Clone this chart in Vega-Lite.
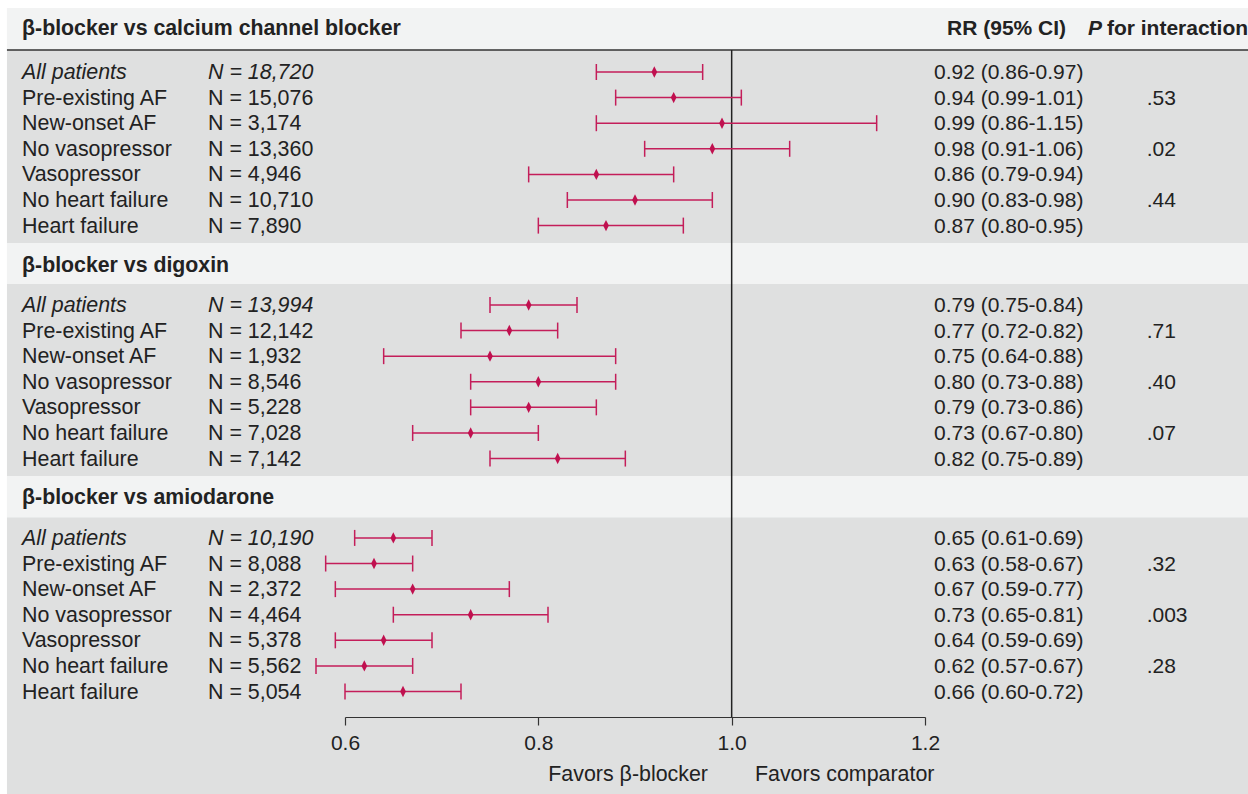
{
  "$schema": "https://vega.github.io/schema/vega-lite/v6.json",
  "width": 580,
  "height": 717,
  "autosize": {"type": "none"},
  "padding": {"left": 345, "right": 323, "top": 0, "bottom": 77},
  "background": "#dfe0e0",
  "config": {"view": {"stroke": null}, "text": {"font": "Liberation Sans", "dy": 1}},
  "datasets": {
    "rows": [
      {"label": "All patients", "n": "N = 18,720", "rr": 0.92, "lo": 0.86, "hi": 0.97, "ci": "0.92 (0.86-0.97)", "p": "", "all": true, "pos": 0},
      {"label": "Pre-existing AF", "n": "N = 15,076", "rr": 0.94, "lo": 0.88, "hi": 1.01, "ci": "0.94 (0.99-1.01)", "p": ".53", "all": false, "pos": 1},
      {"label": "New-onset AF", "n": "N = 3,174", "rr": 0.99, "lo": 0.86, "hi": 1.15, "ci": "0.99 (0.86-1.15)", "p": "", "all": false, "pos": 2},
      {"label": "No vasopressor", "n": "N = 13,360", "rr": 0.98, "lo": 0.91, "hi": 1.06, "ci": "0.98 (0.91-1.06)", "p": ".02", "all": false, "pos": 3},
      {"label": "Vasopressor", "n": "N = 4,946", "rr": 0.86, "lo": 0.79, "hi": 0.94, "ci": "0.86 (0.79-0.94)", "p": "", "all": false, "pos": 4},
      {"label": "No heart failure", "n": "N = 10,710", "rr": 0.90, "lo": 0.83, "hi": 0.98, "ci": "0.90 (0.83-0.98)", "p": ".44", "all": false, "pos": 5},
      {"label": "Heart failure", "n": "N = 7,890", "rr": 0.87, "lo": 0.80, "hi": 0.95, "ci": "0.87 (0.80-0.95)", "p": "", "all": false, "pos": 6},
      {"label": "All patients", "n": "N = 13,994", "rr": 0.79, "lo": 0.75, "hi": 0.84, "ci": "0.79 (0.75-0.84)", "p": "", "all": true, "pos": 9.1},
      {"label": "Pre-existing AF", "n": "N = 12,142", "rr": 0.77, "lo": 0.72, "hi": 0.82, "ci": "0.77 (0.72-0.82)", "p": ".71", "all": false, "pos": 10.1},
      {"label": "New-onset AF", "n": "N = 1,932", "rr": 0.75, "lo": 0.64, "hi": 0.88, "ci": "0.75 (0.64-0.88)", "p": "", "all": false, "pos": 11.1},
      {"label": "No vasopressor", "n": "N = 8,546", "rr": 0.80, "lo": 0.73, "hi": 0.88, "ci": "0.80 (0.73-0.88)", "p": ".40", "all": false, "pos": 12.1},
      {"label": "Vasopressor", "n": "N = 5,228", "rr": 0.79, "lo": 0.73, "hi": 0.86, "ci": "0.79 (0.73-0.86)", "p": "", "all": false, "pos": 13.1},
      {"label": "No heart failure", "n": "N = 7,028", "rr": 0.73, "lo": 0.67, "hi": 0.80, "ci": "0.73 (0.67-0.80)", "p": ".07", "all": false, "pos": 14.1},
      {"label": "Heart failure", "n": "N = 7,142", "rr": 0.82, "lo": 0.75, "hi": 0.89, "ci": "0.82 (0.75-0.89)", "p": "", "all": false, "pos": 15.1},
      {"label": "All patients", "n": "N = 10,190", "rr": 0.65, "lo": 0.61, "hi": 0.69, "ci": "0.65 (0.61-0.69)", "p": "", "all": true, "pos": 18.2},
      {"label": "Pre-existing AF", "n": "N = 8,088", "rr": 0.63, "lo": 0.58, "hi": 0.67, "ci": "0.63 (0.58-0.67)", "p": ".32", "all": false, "pos": 19.2},
      {"label": "New-onset AF", "n": "N = 2,372", "rr": 0.67, "lo": 0.59, "hi": 0.77, "ci": "0.67 (0.59-0.77)", "p": "", "all": false, "pos": 20.2},
      {"label": "No vasopressor", "n": "N = 4,464", "rr": 0.73, "lo": 0.65, "hi": 0.81, "ci": "0.73 (0.65-0.81)", "p": ".003", "all": false, "pos": 21.2},
      {"label": "Vasopressor", "n": "N = 5,378", "rr": 0.64, "lo": 0.59, "hi": 0.69, "ci": "0.64 (0.59-0.69)", "p": "", "all": false, "pos": 22.2},
      {"label": "No heart failure", "n": "N = 5,562", "rr": 0.62, "lo": 0.57, "hi": 0.67, "ci": "0.62 (0.57-0.67)", "p": ".28", "all": false, "pos": 23.2},
      {"label": "Heart failure", "n": "N = 5,054", "rr": 0.66, "lo": 0.60, "hi": 0.72, "ci": "0.66 (0.60-0.72)", "p": "", "all": false, "pos": 24.2}
    ],
    "heads": [
      {"title": "β-blocker vs calcium channel blocker", "pos": -1.72},
      {"title": "β-blocker vs digoxin", "pos": 7.54},
      {"title": "β-blocker vs amiodarone", "pos": 16.6}
    ]
  },
  "layer": [
    {
      "data": {"values": [{}]},
      "mark": {"type": "rect", "color": "#ffffff"},
      "encoding": {
        "x": {"datum": 0.2, "type": "quantitative", "scale": {"domain": [0.6, 1.2], "nice": false, "zero": false}, "axis": {"values": [0.6, 0.8, 1.0, 1.2], "format": ".1f", "title": null, "grid": false, "labelFlush": false, "labelOverlap": false, "domainColor": "#333333", "domainWidth": 1.2, "tickColor": "#333333", "tickWidth": 1.2, "tickSize": 8, "labelFont": "Liberation Sans", "labelFontSize": 21, "labelColor": "#222222", "labelPadding": 7}},
        "x2": {"datum": 0.2503},
        "y": {"datum": -4, "type": "quantitative", "scale": {"domain": [-2.8125, 25.1953], "nice": false, "zero": false, "reverse": true}, "axis": null},
        "y2": {"datum": 30}
      }
    },
    {
      "data": {"values": [{}]},
      "mark": {"type": "rect", "color": "#ffffff"},
      "encoding": {
        "x": {"datum": 0.2, "type": "quantitative"},
        "x2": {"datum": 1.7},
        "y": {"datum": -4, "type": "quantitative"},
        "y2": {"datum": -2.5}
      }
    },
    {
      "data": {"values": [{"a": -2.5, "b": -0.86}, {"a": 6.68, "b": 8.28}, {"a": 15.78, "b": 17.4}]},
      "mark": {"type": "rect", "color": "#f2f3f3"},
      "encoding": {
        "x": {"datum": 0.2503, "type": "quantitative"},
        "x2": {"datum": 1.7},
        "y": {"field": "a", "type": "quantitative"},
        "y2": {"field": "b"}
      }
    },
    {
      "data": {"values": [{}]},
      "mark": {"type": "rule", "color": "#333333", "strokeWidth": 1.6},
      "encoding": {
        "x": {"datum": 0.2503, "type": "quantitative"},
        "x2": {"datum": 1.7},
        "y": {"datum": -0.86, "type": "quantitative"}
      }
    },
    {
      "data": {"values": [{}]},
      "mark": {"type": "rule", "color": "#222222", "strokeWidth": 1.5},
      "encoding": {
        "x": {"datum": 1.0, "type": "quantitative"},
        "y": {"datum": -0.86, "type": "quantitative"},
        "y2": {"datum": 25.1953}
      }
    },
    {
      "data": {"name": "rows"},
      "mark": {"type": "rule", "color": "#c41e5a", "strokeWidth": 1.5},
      "encoding": {
        "x": {"field": "lo", "type": "quantitative"},
        "x2": {"field": "hi"},
        "y": {"field": "pos", "type": "quantitative"}
      }
    },
    {
      "data": {"name": "rows"},
      "mark": {"type": "point", "shape": "M0,-1L0,1", "filled": false, "size": 256, "strokeWidth": 1.5, "color": "#c41e5a", "opacity": 1},
      "encoding": {
        "x": {"field": "lo", "type": "quantitative"},
        "y": {"field": "pos", "type": "quantitative"}
      }
    },
    {
      "data": {"name": "rows"},
      "mark": {"type": "point", "shape": "M0,-1L0,1", "filled": false, "size": 256, "strokeWidth": 1.5, "color": "#c41e5a", "opacity": 1},
      "encoding": {
        "x": {"field": "hi", "type": "quantitative"},
        "y": {"field": "pos", "type": "quantitative"}
      }
    },
    {
      "data": {"name": "rows"},
      "mark": {"type": "point", "shape": "M0,-1L0.5,0L0,1L-0.5,0Z", "filled": true, "size": 130, "color": "#c0104f", "opacity": 1, "strokeWidth": 0},
      "encoding": {
        "x": {"field": "rr", "type": "quantitative"},
        "y": {"field": "pos", "type": "quantitative"}
      }
    },
    {
      "data": {"name": "rows"},
      "transform": [{"filter": "!datum.all"}],
      "mark": {"type": "text", "align": "left", "baseline": "middle", "fontSize": 21.4, "color": "#222222"},
      "encoding": {
        "x": {"datum": 0.2659, "type": "quantitative"},
        "y": {"field": "pos", "type": "quantitative"},
        "text": {"field": "label"}
      }
    },
    {
      "data": {"name": "rows"},
      "transform": [{"filter": "!datum.all"}],
      "mark": {"type": "text", "align": "left", "baseline": "middle", "fontSize": 21.4, "color": "#222222"},
      "encoding": {
        "x": {"datum": 0.4583, "type": "quantitative"},
        "y": {"field": "pos", "type": "quantitative"},
        "text": {"field": "n"}
      }
    },
    {
      "data": {"name": "rows"},
      "transform": [{"filter": "datum.all"}],
      "mark": {"type": "text", "align": "left", "baseline": "middle", "fontSize": 21.4, "fontStyle": "italic", "color": "#222222"},
      "encoding": {
        "x": {"datum": 0.2659, "type": "quantitative"},
        "y": {"field": "pos", "type": "quantitative"},
        "text": {"field": "label"}
      }
    },
    {
      "data": {"name": "rows"},
      "transform": [{"filter": "datum.all"}],
      "mark": {"type": "text", "align": "left", "baseline": "middle", "fontSize": 21.4, "fontStyle": "italic", "color": "#222222"},
      "encoding": {
        "x": {"datum": 0.4583, "type": "quantitative"},
        "y": {"field": "pos", "type": "quantitative"},
        "text": {"field": "n"}
      }
    },
    {
      "data": {"name": "rows"},
      "mark": {"type": "text", "align": "left", "baseline": "middle", "fontSize": 21, "color": "#222222"},
      "encoding": {
        "x": {"datum": 1.2093, "type": "quantitative"},
        "y": {"field": "pos", "type": "quantitative"},
        "text": {"field": "ci"}
      }
    },
    {
      "data": {"name": "rows"},
      "mark": {"type": "text", "align": "left", "baseline": "middle", "fontSize": 21, "color": "#222222"},
      "encoding": {
        "x": {"datum": 1.4293, "type": "quantitative"},
        "y": {"field": "pos", "type": "quantitative"},
        "text": {"field": "p"}
      }
    },
    {
      "data": {"name": "heads"},
      "mark": {"type": "text", "align": "left", "baseline": "middle", "fontSize": 21.3, "fontWeight": "bold", "color": "#222222"},
      "encoding": {
        "x": {"datum": 0.2659, "type": "quantitative"},
        "y": {"field": "pos", "type": "quantitative"},
        "text": {"field": "title"}
      }
    },
    {
      "data": {"values": [{"t": "RR (95% CI)"}]},
      "mark": {"type": "text", "align": "left", "baseline": "middle", "fontSize": 21, "fontWeight": "bold", "color": "#222222"},
      "encoding": {
        "x": {"datum": 1.2228, "type": "quantitative"},
        "y": {"datum": -1.72, "type": "quantitative"},
        "text": {"field": "t"}
      }
    },
    {
      "data": {"values": [{"t": "P"}]},
      "mark": {"type": "text", "align": "left", "baseline": "middle", "fontSize": 21, "fontWeight": "bold", "fontStyle": "italic", "color": "#222222"},
      "encoding": {
        "x": {"datum": 1.3687, "type": "quantitative"},
        "y": {"datum": -1.72, "type": "quantitative"},
        "text": {"field": "t"}
      }
    },
    {
      "data": {"values": [{"t": "for interaction"}]},
      "mark": {"type": "text", "align": "left", "baseline": "middle", "fontSize": 21, "fontWeight": "bold", "color": "#222222"},
      "encoding": {
        "x": {"datum": 1.3882, "type": "quantitative"},
        "y": {"datum": -1.72, "type": "quantitative"},
        "text": {"field": "t"}
      }
    },
    {
      "data": {"values": [{"t": "Favors β-blocker"}]},
      "mark": {"type": "text", "align": "right", "baseline": "middle", "fontSize": 21.4, "color": "#222222"},
      "encoding": {
        "x": {"datum": 0.9755, "type": "quantitative"},
        "y": {"datum": 27.42, "type": "quantitative"},
        "text": {"field": "t"}
      }
    },
    {
      "data": {"values": [{"t": "Favors comparator"}]},
      "mark": {"type": "text", "align": "left", "baseline": "middle", "fontSize": 21.4, "color": "#222222"},
      "encoding": {
        "x": {"datum": 1.0241, "type": "quantitative"},
        "y": {"datum": 27.42, "type": "quantitative"},
        "text": {"field": "t"}
      }
    }
  ]
}
